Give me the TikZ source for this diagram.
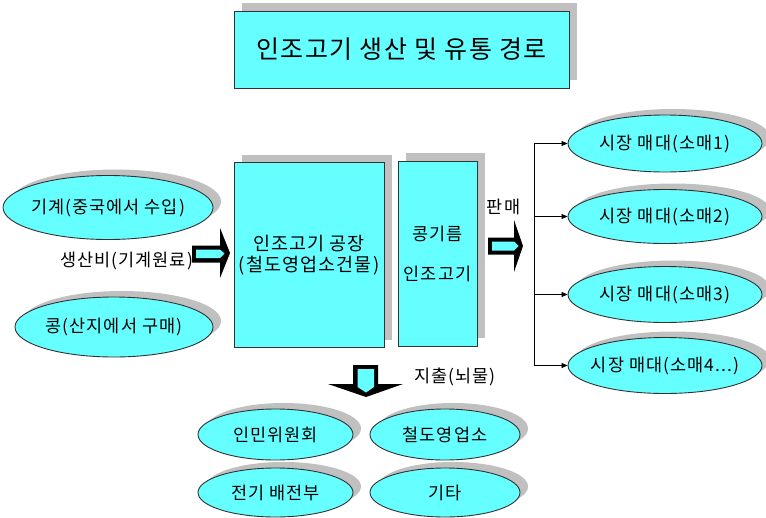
\documentclass[tikz,border=0pt]{standalone}
\usepackage{fontspec}
\setmainfont{Noto Sans CJK KR}[LetterSpace=6]
\usetikzlibrary{shapes.geometric,shadows,arrows.meta}
\definecolor{aqua}{RGB}{102,255,255}
\definecolor{shgray}{RGB}{192,192,192}
\definecolor{edge}{RGB}{50,50,50}
\begin{document}
\begin{tikzpicture}[x=1pt,y=-1pt,
  boxshadow/.style={general shadow={shadow xshift=8pt,shadow yshift=8pt,fill=shgray,draw=none}},
  ellshadow/.style={general shadow={shadow xshift=8pt,shadow yshift=6pt,fill=shgray,draw=none}},
  rectbox/.style={rectangle,draw=edge,line width=0.9pt,fill=aqua,boxshadow,inner sep=0pt,align=center},
  oval/.style={ellipse,draw=edge,line width=0.9pt,fill=aqua,ellshadow,inner xsep=-40pt,inner ysep=-10pt,font=\fontsize{17.5}{20}\selectfont},
  lbl/.style={inner sep=0pt,font=\fontsize{17.5}{20}\selectfont},
  blk/.style={fill=black},
  inner/.style={fill=aqua},
  conn/.style={draw=black,line width=0.6pt},
  tip/.style={-{Triangle[length=6pt,width=5pt]}}
]
\useasboundingbox[fill=white] (0,0) rectangle (766,517);

% title
\node[rectbox,minimum width=335pt,minimum height=77pt,font=\fontsize{25}{29}\selectfont] (title) at (401.5,49.5) {인조고기 생산 및 유통 경로};

% left inputs
\node[oval,minimum width=210pt,minimum height=64pt] (mach) at (108,207.5) {기계(중국에서 수입)};
\node[oval,minimum width=198pt,minimum height=60pt] (bean) at (114,327) {콩(산지에서 구매)};
\node[lbl] (cost) at (126.5,261) {생산비(기계원료)};

% factory and product
\node[rectbox,minimum width=150pt,minimum height=185pt,font=\fontsize{18.5}{21.5}\selectfont] (factory) at (309,255) {인조고기 공장\\(철도영업소건물)};
\node[rectbox,minimum width=79pt,minimum height=185pt,font=\fontsize{17.5}{20}\selectfont] (product) at (437.5,253.5) {콩기름\\[20pt]인조고기};

% sale label
\node[lbl] (sale) at (503.5,207) {판매};

% right markets
\node[oval,minimum width=194pt,minimum height=57pt] (r1) at (665,143.5) {시장 매대(소매1)};
\node[oval,minimum width=194pt,minimum height=54pt] (r2) at (665,216.5) {시장 매대(소매2)};
\node[oval,minimum width=194pt,minimum height=56pt] (r3) at (665,294.5) {시장 매대(소매3)};
\node[oval,minimum width=194pt,minimum height=56pt] (r4) at (665,365.5) {시장 매대(소매4...)};

% branch connectors
\coordinate (bus) at (534,0);
\draw[conn] (bus |- r1) -- (bus |- r4);
\foreach \r in {r1,r2,r3,r4}{\draw[conn,tip] (bus |- \r) -- (\r);}

% expense label
\node[lbl] (bribe) at (455,377) {지출(뇌물)};

% bottom recipients
\node[oval,minimum width=155pt,minimum height=51pt] (b1) at (275.5,434.5) {인민위원회};
\node[oval,minimum width=150pt,minimum height=51pt] (b2) at (445,434.5) {철도영업소};
\node[oval,minimum width=155pt,minimum height=49pt] (b3) at (275.5,492.5) {전기 배전부};
\node[oval,minimum width=150pt,minimum height=49pt] (b4) at (445,492.5) {기타};

% block arrows
\fill[blk] (192,245.5) -- (220,245.5) -- (220,228) -- (230,253) -- (220,278) -- (220,262.5) -- (192,262.5) -- cycle;
\fill[inner] (196,249.5) -- (220,249.5) -- (224.5,253.5) -- (220,258) -- (196,258) -- cycle;

\fill[blk] (488,237.5) -- (514,237.5) -- (514,220) -- (523,246) -- (514,272) -- (514,254.5) -- (488,254.5) -- cycle;
\fill[inner] (492,241.5) -- (514,241.5) -- (518.5,246) -- (514,250.5) -- (492,250.5) -- cycle;

\fill[blk] (353,365) -- (378,365) -- (378,384) -- (403,384) -- (366,397) -- (328,384) -- (353,384) -- cycle;
\fill[inner] (357.5,369) -- (374,369) -- (374,387) -- (366,392.5) -- (357.5,387) -- cycle;
\end{tikzpicture}
\end{document}
